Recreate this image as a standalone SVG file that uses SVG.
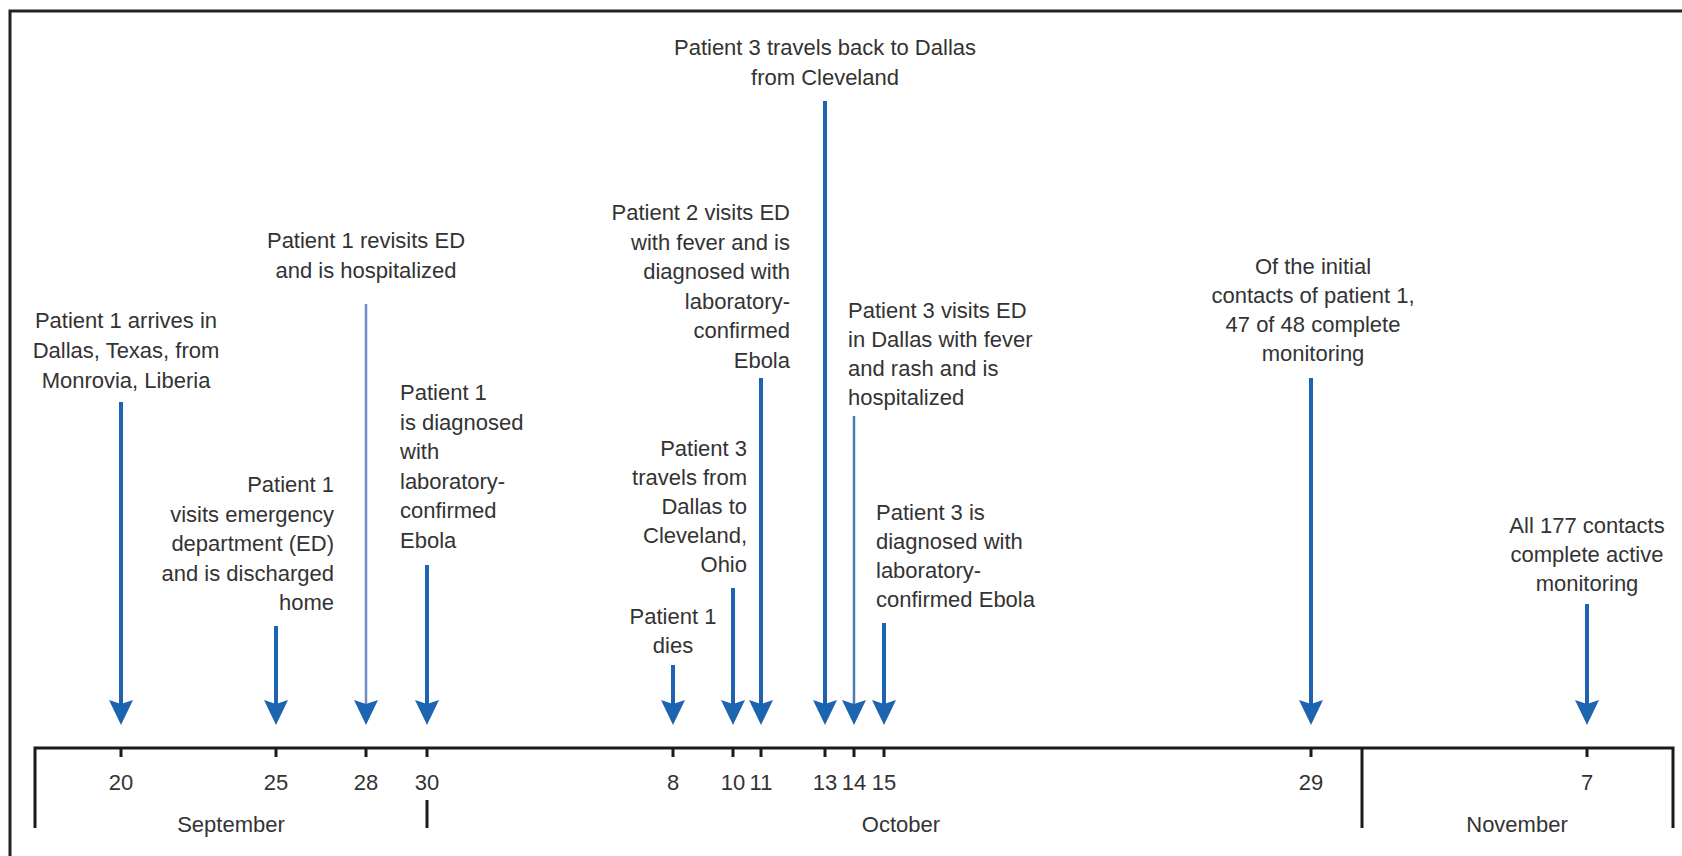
<svg xmlns="http://www.w3.org/2000/svg" width="1682" height="856" viewBox="0 0 1682 856">
<defs>
<style>
.t{font-family:"Liberation Sans",Arial,sans-serif;font-size:22px;fill:#333}
.c{text-anchor:middle}
.r{text-anchor:end}
.ax{stroke:#1a1a1a;stroke-width:3;fill:none}
.sh{stroke:#1c64b0;stroke-width:4;fill:none}
.lt{stroke:#6f8bcc;stroke-width:2.5;fill:none}
.lt2{stroke:#4a7db8;stroke-width:2.5;fill:none}
</style>
<marker id="ah" viewBox="0 0 25 24" refX="15" refY="12" markerWidth="25" markerHeight="24" markerUnits="userSpaceOnUse" orient="auto">
<path d="M0,0 L25,12 L0,24 L4,12 Z" fill="#1c64b0"/>
</marker>
</defs>
<rect width="1682" height="856" fill="#fff"/>
<path d="M10,856 V11 H1682" stroke="#222" stroke-width="3" fill="none"/>

<g id="axis">
<path class="ax" d="M35,828 V748 H1673 V828"/>
<path class="ax" d="M1362,748 V828"/>
<path class="ax" d="M427,800 V828"/>
<path class="ax" d="M121,748 V757 M276,748 V757 M366,748 V757 M427,748 V757 M673,748 V757 M733,748 V757 M761,748 V757 M825,748 V757 M854,748 V757 M884,748 V757 M1311,748 V757 M1587,748 V757"/>
<g class="t c">
<text x="121" y="790">20</text>
<text x="276" y="790">25</text>
<text x="366" y="790">28</text>
<text x="427" y="790">30</text>
<text x="673" y="790">8</text>
<text x="733" y="790">10</text>
<text x="761" y="790">11</text>
<text x="825" y="790">13</text>
<text x="854" y="790">14</text>
<text x="884" y="790">15</text>
<text x="1311" y="790">29</text>
<text x="1587" y="790">7</text>
<text x="231" y="832">September</text>
<text x="901" y="832">October</text>
<text x="1517" y="832">November</text>
</g>
</g>

<g id="connectors">
<line class="sh" x1="121" y1="402" x2="121" y2="715" marker-end="url(#ah)"/>
<line class="sh" x1="276" y1="626" x2="276" y2="715" marker-end="url(#ah)"/>
<line class="lt" x1="366" y1="304" x2="366" y2="715" marker-end="url(#ah)"/>
<line class="sh" x1="427" y1="565" x2="427" y2="715" marker-end="url(#ah)"/>
<line class="sh" x1="673" y1="665" x2="673" y2="715" marker-end="url(#ah)"/>
<line class="sh" x1="733" y1="588" x2="733" y2="715" marker-end="url(#ah)"/>
<line class="sh" x1="761" y1="378" x2="761" y2="715" marker-end="url(#ah)"/>
<line class="sh" x1="825" y1="101" x2="825" y2="715" marker-end="url(#ah)"/>
<line class="lt2" x1="854" y1="416" x2="854" y2="715" marker-end="url(#ah)"/>
<line class="sh" x1="884" y1="623" x2="884" y2="715" marker-end="url(#ah)"/>
<line class="sh" x1="1311" y1="378" x2="1311" y2="715" marker-end="url(#ah)"/>
<line class="sh" x1="1587" y1="604" x2="1587" y2="715" marker-end="url(#ah)"/>
</g>

<g id="ev-sep20" class="t c">
<text x="126" y="328">Patient 1 arrives in</text>
<text x="126" y="358">Dallas, Texas, from</text>
<text x="126" y="388">Monrovia, Liberia</text>
</g>
<g id="ev-sep25" class="t r">
<text x="334" y="492">Patient 1</text>
<text x="334" y="522">visits emergency</text>
<text x="334" y="551">department (ED)</text>
<text x="334" y="581">and is discharged</text>
<text x="334" y="610">home</text>
</g>
<g id="ev-sep28" class="t c">
<text x="366" y="248">Patient 1 revisits ED</text>
<text x="366" y="278">and is hospitalized</text>
</g>
<g id="ev-sep30" class="t">
<text x="400" y="400">Patient 1</text>
<text x="400" y="430">is diagnosed</text>
<text x="400" y="459">with</text>
<text x="400" y="489">laboratory-</text>
<text x="400" y="518">confirmed</text>
<text x="400" y="548">Ebola</text>
</g>
<g id="ev-oct8" class="t c">
<text x="673" y="624">Patient 1</text>
<text x="673" y="653">dies</text>
</g>
<g id="ev-oct10" class="t r">
<text x="747" y="456">Patient 3</text>
<text x="747" y="485">travels from</text>
<text x="747" y="514">Dallas to</text>
<text x="747" y="543">Cleveland,</text>
<text x="747" y="572">Ohio</text>
</g>
<g id="ev-oct11" class="t r">
<text x="790" y="220">Patient 2 visits ED</text>
<text x="790" y="249.5">with fever and is</text>
<text x="790" y="279">diagnosed with</text>
<text x="790" y="308.5">laboratory-</text>
<text x="790" y="338">confirmed</text>
<text x="790" y="367.5">Ebola</text>
</g>
<g id="ev-oct13" class="t c">
<text x="825" y="55">Patient 3 travels back to Dallas</text>
<text x="825" y="85">from Cleveland</text>
</g>
<g id="ev-oct14" class="t">
<text x="848" y="318">Patient 3 visits ED</text>
<text x="848" y="347">in Dallas with fever</text>
<text x="848" y="376">and rash and is</text>
<text x="848" y="405">hospitalized</text>
</g>
<g id="ev-oct15" class="t">
<text x="876" y="520">Patient 3 is</text>
<text x="876" y="549">diagnosed with</text>
<text x="876" y="578">laboratory-</text>
<text x="876" y="607">confirmed Ebola</text>
</g>
<g id="ev-oct29" class="t c">
<text x="1313" y="274">Of the initial</text>
<text x="1313" y="303">contacts of patient 1,</text>
<text x="1313" y="332">47 of 48 complete</text>
<text x="1313" y="361">monitoring</text>
</g>
<g id="ev-nov7" class="t c">
<text x="1587" y="533">All 177 contacts</text>
<text x="1587" y="562">complete active</text>
<text x="1587" y="591">monitoring</text>
</g>
</svg>
